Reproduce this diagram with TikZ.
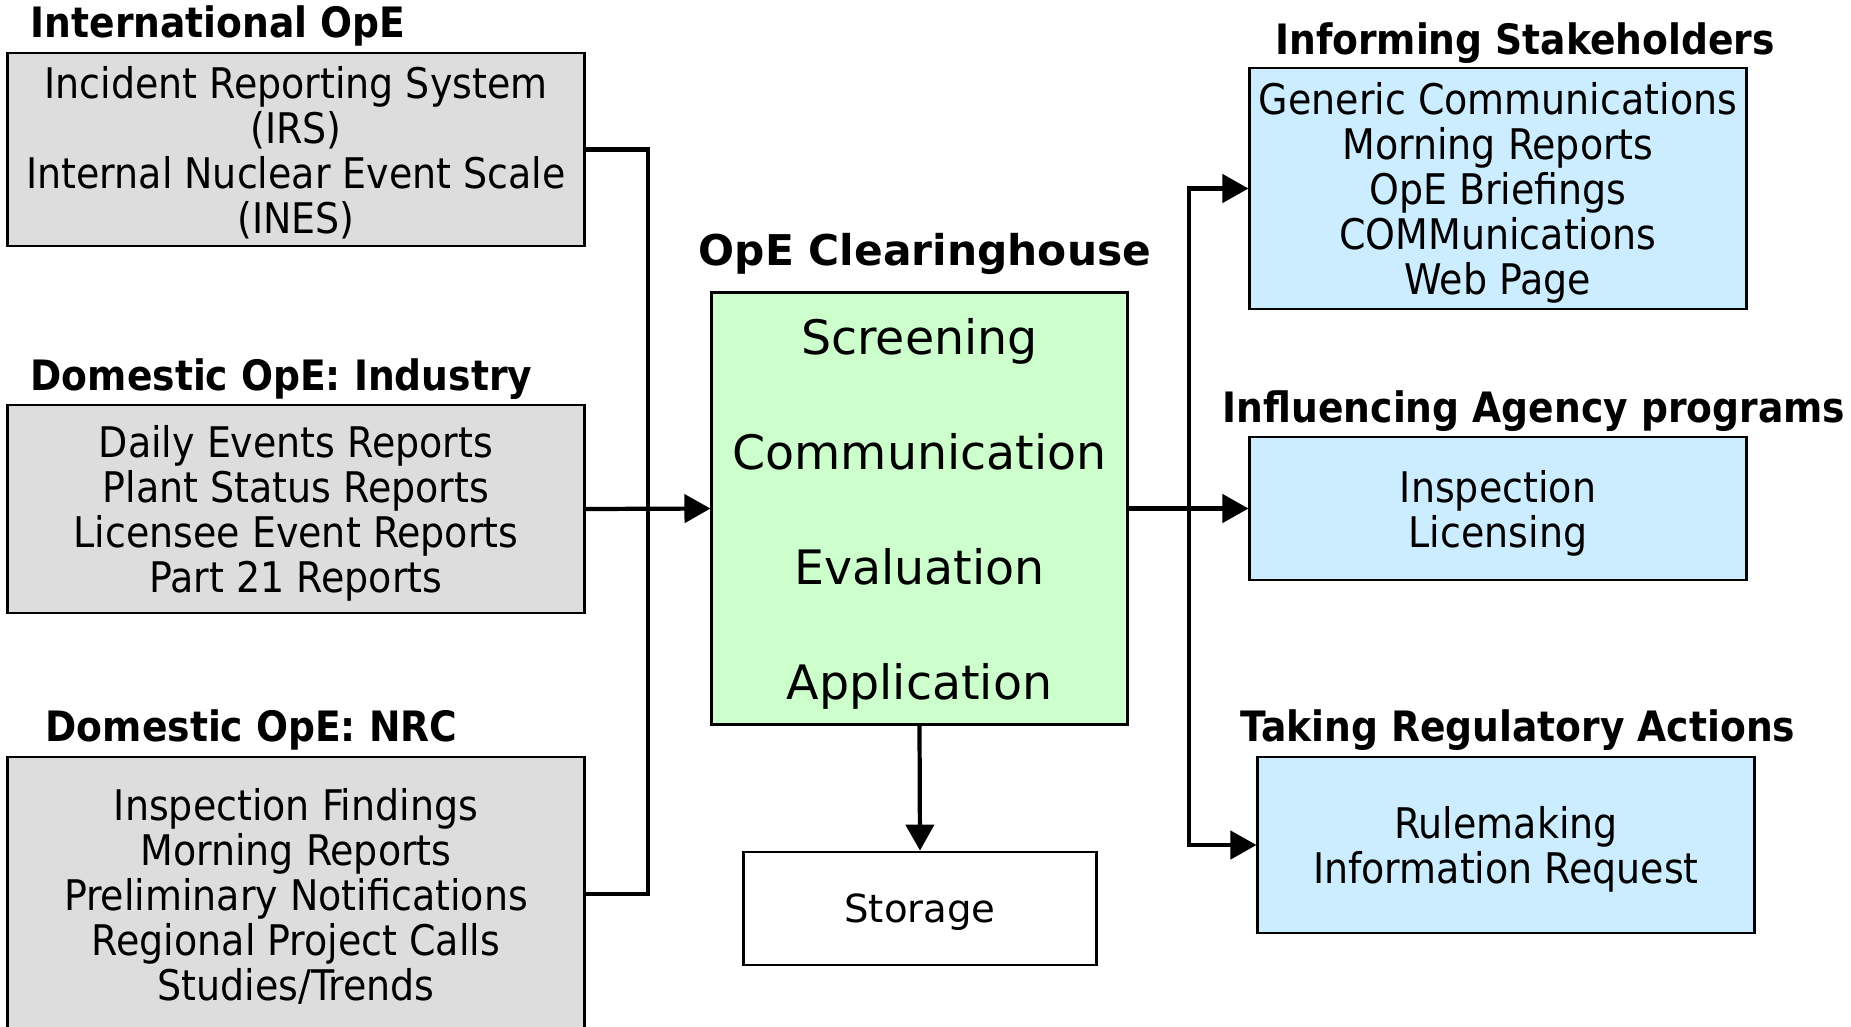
\documentclass[tikz,border=0pt]{standalone}
\usepackage{fontspec}
\usepackage{xcolor}
\setmainfont{DejaVu Sans}
\newfontfamily\condfont{DejaVu Sans Condensed}
\usetikzlibrary{arrows.meta}

\definecolor{srcgray}{HTML}{DDDDDD}
\definecolor{hubgreen}{HTML}{CCFFCC}
\definecolor{outblue}{HTML}{CCECFF}

\begin{document}
\begin{tikzpicture}[x=0.01cm,y=-0.01cm,
    box/.style={draw=black, line width=0.8pt, align=center, inner sep=0pt, text depth=0pt},
    srcbox/.style={box, fill=srcgray, minimum width=5.76cm, font=\condfont\fontsize{12}{12.8}\selectfont},
    outbox/.style={box, fill=outblue, minimum width=4.96cm, font=\condfont\fontsize{12}{12.8}\selectfont},
    head/.style={font=\condfont\bfseries\fontsize{11.9}{14}\selectfont, inner sep=0pt},
    arr/.style={line width=1.2pt, -{Triangle[length=7.4pt,width=8pt]}},
    wire/.style={line width=1.2pt}]
                \clip (0,0) rectangle (1851,1026);
                % sources
                \node[head, anchor=west] (h1) at (30,26) {International OpE};
                \node[srcbox, minimum height=1.93cm] (irs) at (296,149.5) {Incident Reporting System\\(IRS)\\Internal Nuclear Event Scale\\(INES)};
                \node[head, anchor=west] (h2) at (30,379) {Domestic OpE: Industry};
                \node[srcbox, minimum height=2.08cm] (ind) at (296,509) {Daily Events Reports\\Plant Status Reports\\Licensee Event Reports\\Part 21 Reports};
                \node[head, anchor=west] (h3) at (45,730) {Domestic OpE: NRC};
                \node[srcbox, minimum height=2.74cm] (nrc) at (296,894) {Inspection Findings\\Morning Reports\\Preliminary Notifications\\Regional Project Calls\\Studies/Trends};
                % clearinghouse
                \node[font=\bfseries\fontsize{12.05}{15}\selectfont, inner sep=0pt] (hc) at (925,254) {OpE Clearinghouse};
                \node[box, fill=hubgreen, minimum width=4.15cm, minimum height=4.31cm, font=\fontsize{13.5}{32.7}\selectfont] (ch) at (919.5,508.5) {Screening\\Communication\\Evaluation\\Application};
                \node[box, fill=white, minimum width=3.52cm, minimum height=1.13cm, font=\fontsize{11}{14}\selectfont] (st) at (920,908.5) {Storage};
                % outputs
                \node[head] (h4) at (1525,43) {Informing Stakeholders};
                \node[outbox, minimum height=2.41cm] (inf) at (1498,188.5) {Generic Communications\\Morning Reports\\OpE Briefings\\COMMunications\\Web Page};
                \node[head] (h5) at (1534,411) {Influencing Agency programs};
                \node[outbox, minimum height=1.43cm] (prg) at (1498,508.5) {Inspection\\Licensing};
                \node[head] (h6) at (1518,730) {Taking Regulatory Actions};
                \node[outbox, minimum height=1.76cm] (reg) at (1506,845) {Rulemaking\\Information Request};
                % connectors
                \coordinate (lbus) at (648,509);
                \coordinate (rbus) at (1189,509);
                \draw[wire] (irs.east) -| (lbus) |- (nrc.east);
                \draw[arr] (ind.east) -- (ch.west);
                \draw[arr] (ch.south) -- (st.north);
                \draw[arr] (ch.east) -- (prg.west);
                \draw[arr] (rbus) |- (inf.west);
                \draw[arr] (rbus) |- (reg.west);
            \end{tikzpicture}
\end{document}
